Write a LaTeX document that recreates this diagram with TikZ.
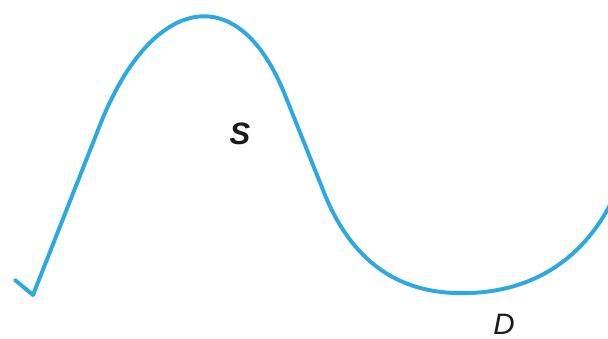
\documentclass[tikz,border=0pt]{standalone}
\usepackage{fontspec}
\setmainfont{Liberation Sans}
\definecolor{curveblue}{RGB}{45,168,224}
\definecolor{labelgray}{RGB}{25,25,30}
\usepackage{tikz}
\usetikzlibrary{positioning}

\begin{document}
\begin{tikzpicture}[x=0.025cm,y=-0.025cm,
  wave/.style={draw=curveblue,line width=2.8pt,line cap=round,line join=round},
  lbl/.style={font=\fontsize{21}{24}\selectfont\itshape,text=labelgray,inner sep=0pt}
]
  \useasboundingbox (0,0) rectangle (608,339);
  \draw[wave] (15,280) -- (33,295) -- (100,125)
    .. controls (150,-2) and (237,-25) .. (285,95)
    -- (325,195)
    .. controls (360,280) and (420,295) .. (470,293)
    .. controls (530,291) and (580,262) .. (610,205);
  \node[lbl,font=\fontsize{22}{24}\selectfont\itshape\bfseries] (S) at (240,134) {S};
  \node[lbl] (D) at (504,324) {D};
\end{tikzpicture}
\end{document}
